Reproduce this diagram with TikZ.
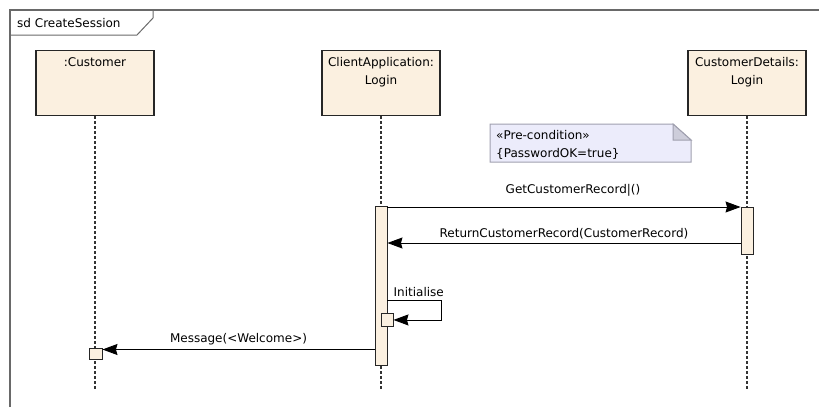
\documentclass[tikz,border=0pt]{standalone}
\usepackage{fontspec}
\setmainfont{DejaVu Sans}
\usetikzlibrary{positioning,arrows.meta}

\definecolor{boxfill}{RGB}{251,240,224}
\definecolor{notefill}{RGB}{236,236,251}
\definecolor{notefold}{RGB}{205,205,218}
\definecolor{noteline}{RGB}{160,160,175}
\definecolor{frameline}{RGB}{105,105,105}

\begin{document}
\begin{tikzpicture}[x=1pt,y=-1pt,
    font=\fontsize{12}{18}\selectfont,
    txt/.style={inner sep=0pt,text=black},
    lifebox/.style={draw=black!85,line width=1.2pt,fill=boxfill,minimum width=118pt,minimum height=65pt,anchor=north},
    lifeline/.style={draw=black!80,line width=1.1pt,dash pattern=on 3pt off 2pt},
    act/.style={draw=black!85,line width=0.9pt,fill=boxfill,minimum width=12pt,inner sep=0pt,anchor=north},
    msg/.style={draw=black,line width=0.9pt,-{Stealth[length=15pt,width=11pt,inset=1.5pt]}}]
    \useasboundingbox (0,0) rectangle (819,407);

    % frame and its tab
    \coordinate (framenw) at (10,10);
    \draw[frameline,line width=1.5pt] (10,407) -- (framenw) -- (819,10);
    \draw[frameline,line width=1pt] (10,35) -- (137,35) -- (153,18) -- (153,10);
    \node (title) [txt,anchor=west] at (17,23) {sd CreateSession};

    % lifelines
    \node (cust) [lifebox] at (95,50) {};
    \node (app) [lifebox] at (381,50) {};
    \node (det) [lifebox] at (747,50) {};
    \node (custname) [txt,below=7pt of cust.north] {:Customer};
    \node (appname) [txt,align=center,below=7pt of app.north] {ClientApplication:\\Login};
    \node (detname) [txt,align=center,below=7pt of det.north] {CustomerDetails:\\Login};
    \coordinate (custend) at (95,390);
    \coordinate (append) at (381,390);
    \coordinate (detend) at (747,390);
    \draw[lifeline] (cust.south) -- (custend);
    \draw[lifeline] (app.south) -- (append);
    \draw[lifeline] (det.south) -- (detend);

    % note
    \coordinate (notenw) at (490,124);
    \coordinate (notese) at (691,162);
    \filldraw[fill=notefill,draw=noteline,line width=1pt] (notenw) -- (673,124) -- (691,140) -- (notese) -- (notenw |- notese) -- cycle;
    \filldraw[fill=notefold,draw=noteline,line width=1pt] (673,124) -- (673,140) -- (691,140) -- cycle;
    \node (note) [txt,align=left,anchor=north west] at (496,130) {«Pre-condition»\\\{PasswordOK=true\}};

    % activations
    \node (appact) [act,minimum height=159pt] at (381,206) {};
    \node (detact) [act,minimum height=47pt] at (747,207) {};
    \node (selfbox) [act,minimum height=13pt] at (387,313) {};
    \node (custrecv) [act,minimum height=11pt,minimum width=13pt] at (95.5,348) {};

    % messages
    \draw[msg] (appact.east |- detact.north) -- (detact.north west)
        node (getlbl) [txt,midway,above=10pt,xshift=9pt] {GetCustomerRecord|()};
    \coordinate (retfrom) at ([yshift=-36pt]detact.north west);
    \draw[msg] (retfrom) -- (appact.east |- retfrom)
        node (retlbl) [txt,midway,above=3pt] {ReturnCustomerRecord(CustomerRecord)};
    \coordinate (initfrom) at ([yshift=-94pt]appact.north east);
    \draw[msg] (initfrom) -- ++(54,0) |- (selfbox.east);
    \node (initlbl) [txt,anchor=south west] at ([xshift=6pt,yshift=3pt]initfrom) {Initialise};
    \coordinate (welcome) at ([yshift=-1.5pt]custrecv.north east);
    \draw[msg] (appact.west |- welcome) -- (welcome)
        node (msglbl) [txt,midway,above=4pt] {Message(<Welcome>)};
\end{tikzpicture}
\end{document}
